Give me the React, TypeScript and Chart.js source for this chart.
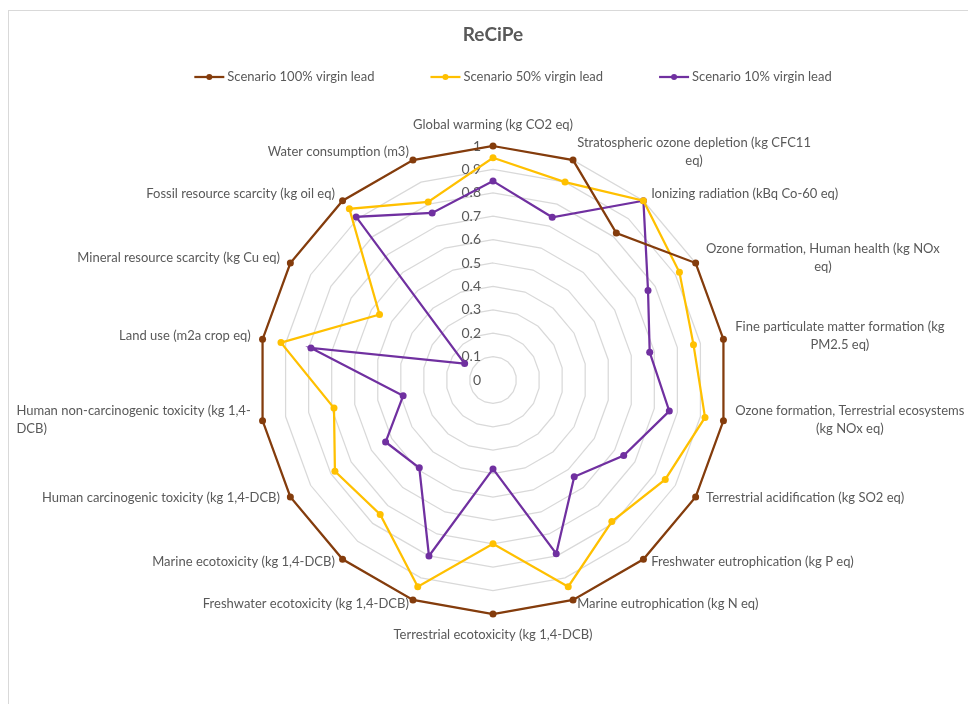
import React, { useEffect, useRef } from "react";
import { Chart, registerables } from "chart.js";

Chart.register(...registerables);

const chartTitle = "ReCiPe";

const categories: (string | string[])[] = [
  "Global warming (kg CO2 eq)",
  ["Stratospheric ozone depletion (kg CFC11", "eq)"],
  "Ionizing radiation (kBq Co-60 eq)",
  ["Ozone formation, Human health (kg NOx", "eq)"],
  ["Fine particulate matter formation (kg", "PM2.5 eq)"],
  ["Ozone formation, Terrestrial ecosystems", "(kg NOx eq)"],
  "Terrestrial acidification (kg SO2 eq)",
  "Freshwater eutrophication (kg P eq)",
  "Marine eutrophication (kg N eq)",
  "Terrestrial ecotoxicity (kg 1,4-DCB)",
  "Freshwater ecotoxicity (kg 1,4-DCB)",
  "Marine ecotoxicity (kg 1,4-DCB)",
  "Human carcinogenic toxicity (kg 1,4-DCB)",
  ["Human non-carcinogenic toxicity (kg 1,4-", "DCB)"],
  "Land use (m2a crop eq)",
  "Mineral resource scarcity (kg Cu eq)",
  "Fossil resource scarcity (kg oil eq)",
  "Water consumption (m3)",
];

const scenario100 = [1, 1, 0.82, 1, 1, 1, 1, 1, 1, 1, 1, 1, 1, 1, 1, 1, 1, 1];
const scenario50 = [0.95, 0.9, 1.0, 0.92, 0.87, 0.92, 0.85, 0.79, 0.94, 0.7, 0.94, 0.75, 0.78, 0.69, 0.92, 0.56, 0.955, 0.81];
const scenario10 = [0.85, 0.74, 1.0, 0.765, 0.68, 0.765, 0.645, 0.54, 0.79, 0.38, 0.8, 0.49, 0.53, 0.39, 0.79, 0.14, 0.91, 0.76];

const seriesNames = ["Scenario 100% virgin lead", "Scenario 50% virgin lead", "Scenario 10% virgin lead"];
const seriesColors = ["#843C0C", "#FFC000", "#7030A0"];

const tickValues = [0, 0.1, 0.2, 0.3, 0.4, 0.5, 0.6, 0.7, 0.8, 0.9, 1];
const tickLabels = ["0", "0.1", "0.2", "0.3", "0.4", "0.5", "0.6", "0.7", "0.8", "0.9", "1"];

const FONT = "Lato, 'Open Sans', sans-serif";
const TEXT = "#595959";

const decorPlugin = {
  id: "decor",
  beforeDraw(chart: any) {
    const ctx = chart.ctx;
    ctx.save();
    ctx.fillStyle = "#ffffff";
    ctx.fillRect(0, 0, chart.width, chart.height);
    ctx.strokeStyle = "#d9d9d9";
    ctx.lineWidth = 1;
    ctx.strokeRect(8.5, 10.5, chart.width + 40, chart.height + 40);

    // title
    const scale = chart.scales.r;
    ctx.fillStyle = TEXT;
    ctx.font = `bold 19px ${FONT}`;
    ctx.textAlign = "center";
    ctx.textBaseline = "middle";
    ctx.fillText(chartTitle, scale.xCenter, 35);

    // legend
    ctx.font = `13px ${FONT}`;
    const marker = 30;
    const gapText = 3;
    const gapItem = 56;
    const widths = seriesNames.map((n) => marker + gapText + ctx.measureText(n).width);
    const total = widths.reduce((a, b) => a + b, 0) + gapItem * (widths.length - 1);
    let x = scale.xCenter + 20 - total / 2;
    const ly = 77;
    seriesNames.forEach((name, i) => {
      ctx.strokeStyle = seriesColors[i];
      ctx.lineWidth = 2.25;
      ctx.beginPath();
      ctx.moveTo(x, ly);
      ctx.lineTo(x + marker, ly);
      ctx.stroke();
      ctx.fillStyle = seriesColors[i];
      ctx.beginPath();
      ctx.arc(x + marker / 2, ly, 3, 0, Math.PI * 2);
      ctx.fill();
      ctx.fillStyle = TEXT;
      ctx.textAlign = "left";
      ctx.fillText(name, x + marker + gapText, ly);
      x += widths[i] + gapItem;
    });
    ctx.restore();
  },
  beforeDatasetsDraw(chart: any) {
    const ctx = chart.ctx;
    const scale = chart.scales.r;
    ctx.save();
    // tick labels
    ctx.fillStyle = TEXT;
    ctx.font = `14px ${FONT}`;
    ctx.textAlign = "right";
    ctx.textBaseline = "middle";
    tickValues.forEach((v, i) => {
      const d = scale.getDistanceFromCenterForValue(v);
      ctx.fillText(tickLabels[i], scale.xCenter - 12, scale.yCenter - d);
    });

    // point labels
    ctx.font = `13px ${FONT}`;
    const n = categories.length;
    const R = scale.drawingArea;
    const lh = 18;
    categories.forEach((lab, i) => {
      const lines = Array.isArray(lab) ? lab : [lab];
      const p = scale.getPointPosition(i, R + 12);
      const outer = scale.getPointPosition(i, R);
      const ang = (i * 360) / n;
      const rad = (ang * Math.PI) / 180;
      const s = Math.sin(rad);
      const c = Math.cos(rad);
      const bw = Math.max(...lines.map((l) => ctx.measureText(l).width));
      let left: number;
      if (Math.abs(s) < 0.05) left = p.x - bw / 2;
      else if (s > 0) left = p.x;
      else left = p.x - bw;
      const h = lines.length * lh;
      let top: number;
      if (ang === 0) top = p.y - h;
      else if (ang === 180) top = p.y;
      else top = outer.y - c * 6.4 - 2 - h / 2;
      lines.forEach((l, j) => {
        let tx: number;
        if (s < -0.05) {
          ctx.textAlign = "left";
          tx = left;
        } else {
          ctx.textAlign = "center";
          tx = left + bw / 2;
        }
        ctx.fillText(l, tx, top + lh * j + lh / 2);
      });
    });
    ctx.restore();
  },
};

export default function App() {
  const ref = useRef<HTMLCanvasElement | null>(null);
  useEffect(() => {
    if (!ref.current) return;
    const series = [scenario100, scenario50, scenario10];
    const chart = new Chart(ref.current, {
      type: "radar",
      data: {
        labels: categories,
        datasets: series.map((d, i) => ({
          label: seriesNames[i],
          data: d,
          borderColor: seriesColors[i],
          backgroundColor: seriesColors[i],
          pointBackgroundColor: seriesColors[i],
          pointBorderColor: seriesColors[i],
          borderWidth: 2.25,
          pointRadius: 3.5,
          pointBorderWidth: 0,
          fill: false,
          tension: 0,
        })),
      },
      options: {
        responsive: false,
        animation: false,
        layout: { padding: { left: 259, right: 241, top: 146, bottom: 90 } },
        plugins: {
          legend: { display: false },
          title: { display: false },
          tooltip: { enabled: false },
        },
        scales: {
          r: {
            min: 0,
            max: 1,
            ticks: { stepSize: 0.1, display: false },
            grid: { color: "#d9d9d9", lineWidth: 1.25 },
            angleLines: { display: false },
            pointLabels: { display: false },
          },
        },
      },
      plugins: [decorPlugin],
    } as any);
    return () => chart.destroy();
  }, []);
  return (
    <div style={{ position: "absolute", left: 0, top: 0, width: 968, height: 704 }}>
      <canvas ref={ref} width={968} height={704} style={{ display: "block" }} />
    </div>
  );
}
